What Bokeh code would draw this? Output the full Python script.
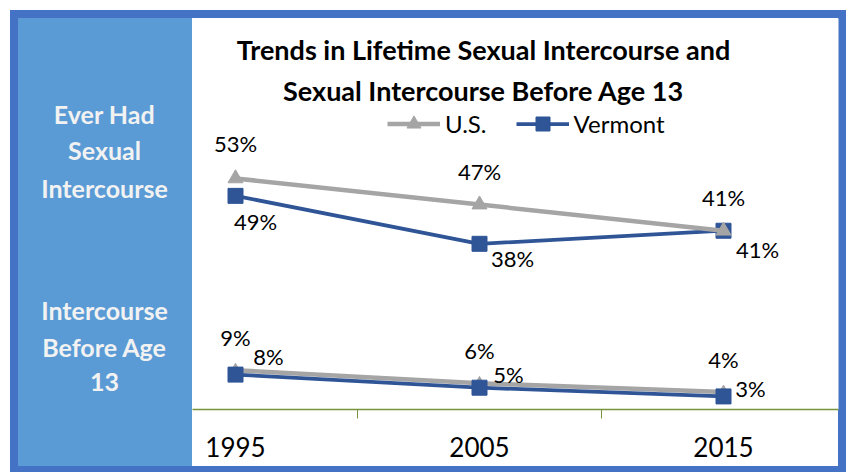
from bokeh.plotting import figure
from bokeh.layouts import row
from bokeh.models import (ColumnDataSource, LabelSet, Label, Legend, LegendItem,
                          FixedTicker, Range1d)
from bokeh.core.properties import value
from bokeh.embed import file_html
from bokeh.resources import INLINE

# ---------------- data ----------------
years = [1995, 2005, 2015]
tick_labels = ["1995", "2005", "2015"]
us_ever = [53, 47, 41]
vt_ever = [49, 38, 41]
us_before13 = [9, 6, 4]
vt_before13 = [8, 5, 3]
series_names = ["U.S.", "Vermont"]
title_lines = ["Trends in Lifetime Sexual Intercourse and",
               "Sexual Intercourse Before Age 13"]
row_label_ever = ["Ever Had", "Sexual", "Intercourse"]
row_label_13 = ["Intercourse", "Before Age", "13"]

# ---------------- style ----------------
FONT = "Lato"
US_COLOR = "#A5A5A5"
VT_COLOR = "#2F5597"
PANEL = "#5B9BD5"
FRAME = "#4472C4"
AXIS = "#77933C"

H = 472
LW = 192          # width of the left label panel figure
MW = 848 - LW     # width of the chart figure
TOP, BOTTOM = 18, 409   # frame edges shared by both figures (row aligns them)


def bar(x, y, w, h, c):
    return f"linear-gradient({c},{c}) {x}px {y}px / {w}px {h}px no-repeat"


left_bg = ", ".join([bar(10, 10, 182, 8, FRAME), bar(10, 10, 8, 462, FRAME),
                     bar(10, 466, 182, 6, FRAME), bar(18, 18, 174, 448, PANEL), "white"])
main_bg = ", ".join([bar(0, 10, 654, 8, FRAME), bar(646, 10, 8, 462, FRAME),
                     bar(0, 466, 654, 6, FRAME), "white"])

# ---------------- left panel (row labels) ----------------
lp = figure(width=LW, height=H, output_backend="svg", toolbar_location=None,
            x_range=Range1d(0, LW), y_range=Range1d(BOTTOM, TOP),
            min_border_left=0, min_border_right=0, min_border_top=TOP,
            min_border_bottom=H - BOTTOM, x_axis_location=None, y_axis_location=None,
            styles={"background": left_bg})
lp.grid.visible = False
lp.outline_line_color = None
lp.background_fill_alpha = 0
lp.border_fill_alpha = 0
for txt, yy in zip(row_label_ever + row_label_13, [113, 149, 187, 309, 346, 381]):
    lp.add_layout(Label(x=104, y=yy, text=txt, text_font=FONT, text_font_style="bold",
                        text_font_size="25px", text_color="#F2F2F2",
                        text_align="center", text_baseline="middle"))

# ---------------- chart ----------------
p = figure(width=MW, height=H, output_backend="svg", toolbar_location=None,
           x_range=Range1d(1993.2377, 2019.713), y_range=Range1d(0, 89.68),
           min_border_left=0, min_border_right=10, min_border_top=TOP,
           min_border_bottom=H - BOTTOM, y_axis_location=None,
           styles={"background": main_bg})
p.grid.visible = False
p.outline_line_color = None
p.background_fill_color = "white"
p.border_fill_alpha = 0

# x axis: labels at categories, tick marks between categories
ax = p.xaxis[0]
ax.ticker = FixedTicker(ticks=years, minor_ticks=[2000, 2010])
ax.major_label_overrides = {y: t for y, t in zip(years, tick_labels)}
ax.major_tick_line_color = None
ax.major_tick_out = 0
ax.major_tick_in = 0
ax.minor_tick_out = 9
ax.minor_tick_in = 0
ax.minor_tick_line_color = AXIS
ax.axis_line_color = AXIS
ax.axis_line_width = 1.5
ax.major_label_text_font = FONT
ax.major_label_text_font_size = "26px"
ax.major_label_text_color = "black"
ax.major_label_standoff = 18

# title (screen units, relative to frame bottom-left)
for txt, yy in zip(title_lines, [360, 319]):
    p.add_layout(Label(x=291, y=yy, x_units="screen", y_units="screen", text=txt,
                       text_font=FONT, text_font_style="bold", text_font_size="27px",
                       text_color="black", text_align="center", text_baseline="middle"))


def src(vals, xo, yo):
    return ColumnDataSource(dict(x=years, y=vals, lab=[f"{v}%" for v in vals],
                                 xo=xo, yo=yo))


s_vt_ever = src(vt_ever, [20, 33, 34], [-26, -15, -19])
s_us_ever = src(us_ever, [0, 0, 0], [35, 33, 33])
s_us_13 = src(us_before13, [0, 0, 0], [33, 33, 33])
s_vt_13 = src(vt_before13, [33, 29, 27], [18, 13, 8])

r_vt_l = p.line("x", "y", source=s_vt_ever, line_color=VT_COLOR, line_width=3.75)
r_vt_m = p.scatter("x", "y", source=s_vt_ever, marker="square", size=15,
                   fill_color=VT_COLOR, line_color=VT_COLOR)
r_us_l = p.line("x", "y", source=s_us_ever, line_color=US_COLOR, line_width=4.5)
r_us_m = p.scatter("x", "y", source=s_us_ever, marker="triangle", size=15,
                   fill_color=US_COLOR, line_color=US_COLOR)
p.line("x", "y", source=s_us_13, line_color=US_COLOR, line_width=4.5)
p.scatter("x", "y", source=s_us_13, marker="triangle", size=12,
          fill_color=US_COLOR, line_color=US_COLOR)
p.line("x", "y", source=s_vt_13, line_color=VT_COLOR, line_width=3.75)
p.scatter("x", "y", source=s_vt_13, marker="square", size=15,
          fill_color=VT_COLOR, line_color=VT_COLOR)

for s in [s_vt_ever, s_us_ever, s_us_13, s_vt_13]:
    p.add_layout(LabelSet(x="x", y="y", text="lab", source=s, x_offset="xo", y_offset="yo",
                          text_font=value(FONT), text_font_size="22px", text_color="black",
                          text_align="center", text_baseline="middle"))

legend = Legend(items=[LegendItem(label=series_names[0], renderers=[r_us_l, r_us_m]),
                       LegendItem(label=series_names[1], renderers=[r_vt_l, r_vt_m])],
                orientation="horizontal", location=(195, 268), padding=0, margin=0,
                spacing=29, glyph_width=53, glyph_height=35, label_standoff=5,
                label_text_font=FONT, label_text_font_size="24px",
                label_text_color="black", background_fill_alpha=0,
                border_line_color=None)
p.add_layout(legend, "center")

layout = row(lp, p, spacing=0)
open("out.html", "w").write(file_html(layout, INLINE))
